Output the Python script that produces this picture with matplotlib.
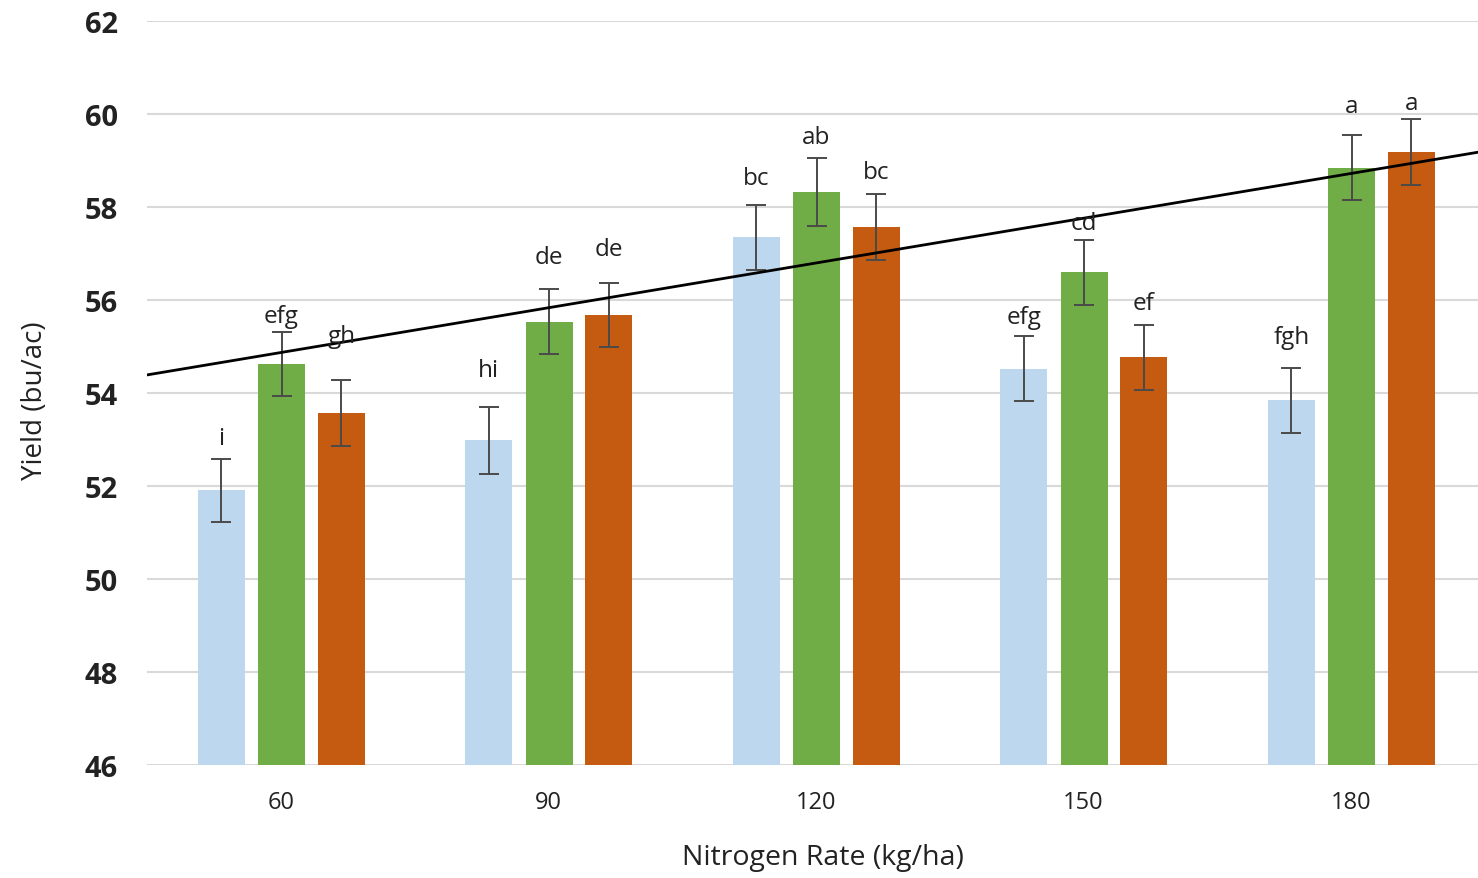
import matplotlib
matplotlib.use("Agg")
import matplotlib.pyplot as plt
import numpy as np

plt.rcParams["font.family"] = ["Open Sans", "DejaVu Sans"]

# Datos
tasas_n = ["60", "90", "120", "150", "180"]
rend_azul = [51.91, 52.98, 57.35, 54.52, 53.84]
rend_verde = [54.62, 55.53, 58.32, 56.60, 58.84]
rend_naranja = [53.57, 55.68, 57.57, 54.77, 59.18]
err_azul = [0.68, 0.72, 0.70, 0.70, 0.70]
err_verde = [0.69, 0.70, 0.73, 0.70, 0.70]
err_naranja = [0.72, 0.69, 0.71, 0.70, 0.71]
letras_azul = ["i", "hi", "bc", "efg", "fgh"]
letras_verde = ["efg", "de", "ab", "cd", "a"]
letras_naranja = ["gh", "de", "bc", "ef", "a"]
tendencia_60 = 54.87
tendencia_180 = 58.72

# separación (px) entre el tope de la barra de error y la base del texto
gap_azul = [15, 31, 21, 13, 25]
gap_verde = [10, 26, 15, 11, 23]
gap_naranja = [38, 28, 16, 16, 10]

W, H = 1478, 879
fig = plt.figure(figsize=(W / 100, H / 100), dpi=100)
ax = fig.add_axes([147 / W, 1 - 766 / H, 1337.5 / W, 744 / H])

x = np.arange(len(tasas_n))
ancho = 0.176
series = [
    (rend_azul, err_azul, letras_azul, gap_azul, "#bdd7ee", -0.222),
    (rend_verde, err_verde, letras_verde, gap_verde, "#70ad47", 0.003),
    (rend_naranja, err_naranja, letras_naranja, gap_naranja, "#c55a11", 0.226),
]

for vals, errs, letras, gaps, color, desp in series:
    xs = x + desp
    ax.bar(xs, vals, width=ancho, bottom=0, color=color, zorder=2)
    ax.errorbar(xs, vals, yerr=errs, fmt="none", ecolor="#4a4a4a",
                elinewidth=1.4, capsize=7, capthick=1.4, zorder=3)
    for xi, v, e, l, g in zip(xs, vals, errs, letras, gaps):
        ax.annotate(l, (xi, v + e), xytext=(0, g * 0.72),
                    textcoords="offset points", ha="center", va="baseline",
                    fontsize=17.5, color="#222222", zorder=5)

# línea de tendencia
pend = (tendencia_180 - tendencia_60) / (len(tasas_n) - 1)
xt = np.array([-0.5, 4.5])
ax.plot(xt, tendencia_60 + pend * xt, color="black", lw=2, zorder=4)

ax.set_xlim(-0.5, 4.5)
ax.set_ylim(46, 62)
ax.set_yticks(np.arange(46, 63, 2))
ax.grid(axis="y", color="#d9d9d9", lw=1.5, zorder=0)
ax.set_axisbelow(True)
for s in ax.spines.values():
    s.set_visible(False)
ax.set_xticks(x)
ax.set_xticklabels(tasas_n, fontsize=17, color="#222222")
ax.tick_params(axis="x", length=0, pad=18)
ax.tick_params(axis="y", length=0, pad=21, labelsize=21, labelcolor="#222222")
for t in ax.get_yticklabels():
    t.set_fontweight("bold")

fig.text(823 / W, 1 - 858 / H, "Nitrogen Rate (kg/ha)", ha="center", va="center",
         fontsize=20.5, color="#222222")
fig.text(35 / W, 1 - 401 / H, "Yield (bu/ac)", ha="center", va="center",
         rotation=90, fontsize=20, color="#222222")

fig.savefig("out.png", dpi=100)
